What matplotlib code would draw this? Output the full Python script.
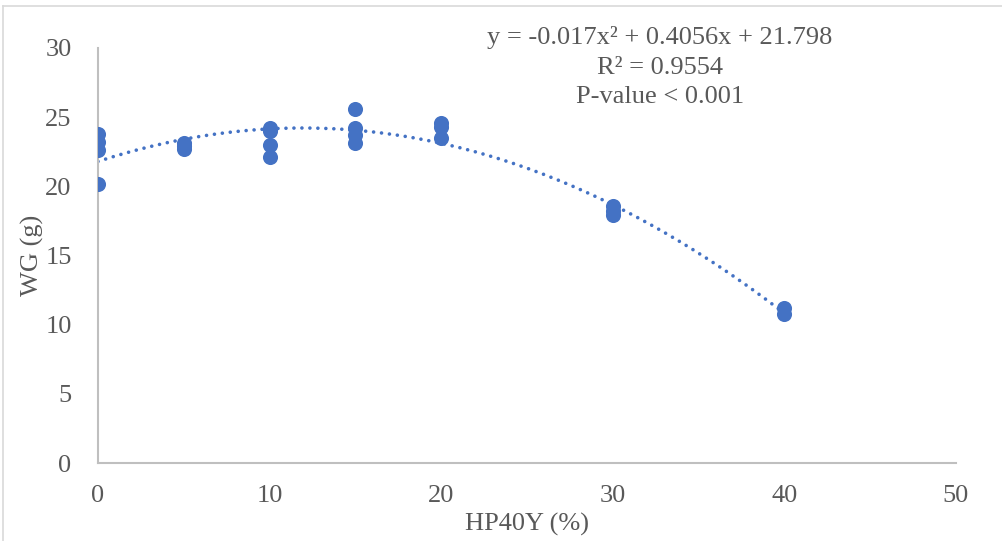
import numpy as np
import matplotlib
matplotlib.use('Agg')
import matplotlib.pyplot as plt
from matplotlib.lines import Line2D

# data
x_vals = [0, 0, 0, 0,
          5, 5, 5,
          10, 10, 10, 10,
          15, 15, 15, 15,
          20, 20, 20,
          30, 30, 30,
          40, 40]
wg_vals = [23.8, 23.2, 22.6, 20.2,
           23.1, 22.9, 22.7,
           24.2, 24.0, 23.0, 22.1,
           25.6, 24.2, 23.7, 23.1,
           24.6, 24.3, 23.5,
           18.6, 18.2, 17.9,
           11.2, 10.8]
# trendline coefficients as printed on the chart
coef = [-0.017, 0.4056, 21.798]
x_ticks = [0, 10, 20, 30, 40, 50]
y_ticks = [0, 5, 10, 15, 20, 25, 30]

plt.rcParams['font.family'] = ['Liberation Serif', 'DejaVu Serif']

W, H = 1002, 541
fig = plt.figure(figsize=(W / 100, H / 100), dpi=100)

# outer chart frame (light grey)
fig.add_artist(Line2D([3 / W, 1], [1 - 6 / H, 1 - 6 / H], color='#D9D9D9', lw=1.2))
fig.add_artist(Line2D([3 / W, 3 / W], [0, 1 - 6 / H], color='#D9D9D9', lw=1.2))

ax = fig.add_axes([98 / W, (H - 463) / H, (956 - 98) / W, (463 - 48) / H])

blue = '#4472C4'
grey = '#595959'

ax.scatter(x_vals, wg_vals, s=118, color=blue, zorder=3, linewidths=0)

xs = np.linspace(0, 40, 200)
ax.plot(xs, np.polyval(coef, xs), color=blue, lw=2.6,
        linestyle=(0, (0.01, 2.2)), dash_capstyle='round', zorder=2)

ax.set_xlim(0, 50)
ax.set_ylim(0, 30)
ax.set_xticks(x_ticks)
ax.set_yticks(y_ticks)
ax.tick_params(length=0, labelsize=19, colors=grey)
ax.tick_params(axis='x', pad=16)
ax.tick_params(axis='y', pad=19)

for s in ['top', 'right']:
    ax.spines[s].set_visible(False)
for s in ['left', 'bottom']:
    ax.spines[s].set_color('#BFBFBF')
    ax.spines[s].set_linewidth(1.5)

ax.set_xlabel('HP40Y (%)', fontsize=19, color=grey, labelpad=4)
ax.set_ylabel('WG (g)', fontsize=19, color=grey, labelpad=1)

ax.text(0.655, 0.954,
        'y = -0.017x² + 0.4056x + 21.798\nR² = 0.9554\nP-value < 0.001',
        transform=ax.transAxes, ha='center', va='center', fontsize=19,
        color=grey, linespacing=1.45)

fig.savefig('out.png', dpi=100)
